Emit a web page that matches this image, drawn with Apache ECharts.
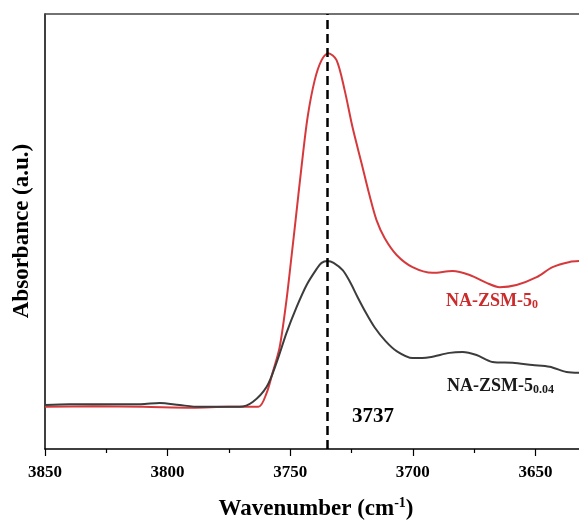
<!DOCTYPE html>
<html>
<head>
<meta charset="utf-8">
<script src="https://cdn.jsdelivr.net/npm/echarts@6/dist/echarts.min.js"></script>
<style>
  html, body { margin: 0; padding: 0; background: #fff; }
  #chart { width: 579px; height: 522px; }
</style>
</head>
<body>
<div id="chart"></div>
<script>
    // wavenumber (cm-1) / absorbance (a.u.)
    var redWn = [3850, 3830, 3810, 3790, 3775, 3763, 3759.6, 3757.2, 3754.3, 3751.5, 3749.4, 3747.8, 3745.4, 3742.9, 3740.0,
        3737.2, 3734.5, 3731.1, 3727.8, 3724.6, 3720.9, 3717.6, 3714.8, 3711.5, 3706.6, 3700.1, 3691.9, 3683.8, 3676.8,
        3669.9, 3664.6, 3657.7, 3649.5, 3643.0, 3636.0, 3632];
    var redAbs = [0.097, 0.098, 0.097, 0.095, 0.097, 0.097, 0.129, 0.175, 0.234, 0.343, 0.446, 0.526, 0.648, 0.763, 0.848,
        0.894, 0.910, 0.894, 0.825, 0.740, 0.657, 0.582, 0.526, 0.485, 0.446, 0.418, 0.405, 0.409, 0.400,
        0.382, 0.372, 0.377, 0.395, 0.418, 0.430, 0.432];

    var blackWn = [3850, 3840, 3822.4, 3811, 3803.2, 3795.1, 3787, 3770.6, 3765.3, 3759.6, 3755.6, 3751.5, 3747.4, 3743.3,
        3739.2, 3737.2, 3734.8, 3732.3, 3728.6, 3725.8, 3722.5, 3719.3, 3715.6, 3711.1, 3706.6, 3700.1, 3693.2,
        3685.0, 3679.7, 3674.0, 3667.5, 3659.3, 3651.2, 3644.2, 3637.3, 3632];
    var blackAbs = [0.101, 0.103, 0.103, 0.103, 0.106, 0.101, 0.097, 0.097, 0.108, 0.143, 0.198, 0.267, 0.326, 0.377,
        0.414, 0.428, 0.432, 0.428, 0.411, 0.386, 0.349, 0.315, 0.280, 0.248, 0.225, 0.209, 0.211,
        0.221, 0.223, 0.216, 0.200, 0.198, 0.193, 0.189, 0.177, 0.175];

    var peakPos = 3735;
    var peakText = '3737';
    var redName = 'NA-ZSM-5';
    var redSub = '0';
    var blackName = 'NA-ZSM-5';
    var blackSub = '0.04';

    function pairs(xs, ys) {
        var out = [];
        xs.forEach(function (x, i) { out.push([x, ys[i]]); });
        return out;
    }

    var font = '"Liberation Serif", "Times New Roman", serif';

    var myCharts = echarts.init(document.getElementById('chart'));
    myCharts.setOption({
        animation: false,
        backgroundColor: '#fff',
        grid: { left: 45, top: 14, right: -79, bottom: 73, outerBoundsMode: 'none', containLabel: false },
        xAxis: [{
            type: 'value',
            inverse: true,
            min: 3600,
            max: 3850,
            interval: 50,
            axisLine: { lineStyle: { color: '#000', width: 1.5 } },
            axisTick: { length: 7, lineStyle: { color: '#000', width: 1.2 } },
            minorTick: { show: true, splitNumber: 2, length: 4, lineStyle: { color: '#000', width: 1.2 } },
            splitLine: { show: false },
            axisLabel: {
                color: '#000', fontFamily: font, fontWeight: 'bold', fontSize: 17, margin: 15,
                formatter: function (v) { return String(v); }
            }
        }, {
            type: 'value',
            position: 'top',
            inverse: true,
            min: 3600,
            max: 3850,
            axisLine: { show: true, onZero: false, lineStyle: { color: '#444', width: 1.5 } },
            axisTick: { show: false },
            axisLabel: { show: false },
            splitLine: { show: false }
        }],
        yAxis: {
            type: 'value',
            min: 0,
            max: 1,
            axisLine: { show: true, lineStyle: { color: '#000', width: 1.5 } },
            axisTick: { show: false },
            axisLabel: { show: false },
            splitLine: { show: false }
        },
        series: [{
            name: redName + redSub,
            type: 'line',
            data: pairs(redWn, redAbs),
            showSymbol: false,
            smooth: 0.3,
            lineStyle: { color: '#d6393c', width: 2 },
            markLine: {
                silent: true,
                symbol: 'none',
                label: { show: false },
                lineStyle: { color: '#000', type: [9, 5], width: 2.5 },
                data: [{ xAxis: peakPos }]
            }
        }, {
            name: blackName + blackSub,
            type: 'line',
            data: pairs(blackWn, blackAbs),
            showSymbol: false,
            smooth: 0.3,
            lineStyle: { color: '#3c3c3c', width: 2 }
        }],
        graphic: [{
            type: 'text', left: 446, top: 292,
            style: {
                text: '{m|' + redName + '}{s|' + redSub + '}',
                rich: {
                    m: { fontFamily: font, fontWeight: 'bold', fontSize: 18, fill: '#cc2b2b', lineHeight: 20 },
                    s: { fontFamily: font, fontWeight: 'bold', fontSize: 12, fill: '#cc2b2b', verticalAlign: 'bottom', lineHeight: 10 }
                }
            }
        }, {
            type: 'text', left: 447, top: 377,
            style: {
                text: '{m|' + blackName + '}{s|' + blackSub + '}',
                rich: {
                    m: { fontFamily: font, fontWeight: 'bold', fontSize: 18, fill: '#1a1a1a', lineHeight: 20 },
                    s: { fontFamily: font, fontWeight: 'bold', fontSize: 12, fill: '#1a1a1a', verticalAlign: 'bottom', lineHeight: 10 }
                }
            }
        }, {
            type: 'text', left: 352, top: 406,
            style: { text: peakText, fontFamily: font, fontWeight: 'bold', fontSize: 21, fill: '#000' }
        }, {
            type: 'text', x: 316, y: 509,
            style: {
                text: '{m|Wavenumber (cm}{p|-1}{m|)}',
                align: 'center',
                verticalAlign: 'middle',
                rich: {
                    m: { fontFamily: font, fontWeight: 'bold', fontSize: 23, fill: '#000', lineHeight: 26 },
                    p: { fontFamily: font, fontWeight: 'bold', fontSize: 14, fill: '#000', verticalAlign: 'top', lineHeight: 14 }
                }
            }
        }, {
            type: 'text', x: 22, y: 231,
            rotation: Math.PI / 2,
            style: {
                text: 'Absorbance (a.u.)',
                fontFamily: font, fontWeight: 'bold', fontSize: 23, fill: '#000',
                align: 'center', verticalAlign: 'middle'
            }
        }]
    });
</script>
</body>
</html>
